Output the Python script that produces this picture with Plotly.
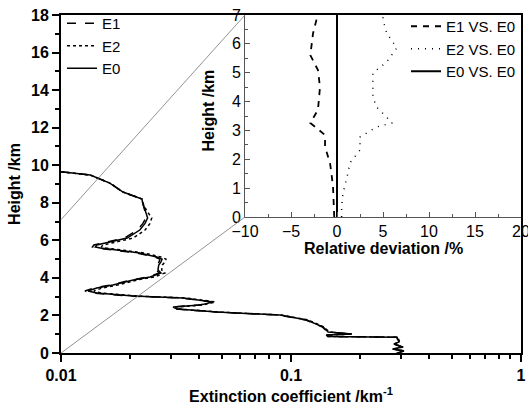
import plotly.graph_objects as go

# ---------------- data ----------------
height = [9.65, 9.48, 9.05, 8.57, 8.2, 8.04, 7.61, 7.19, 6.9, 6.55, 6.12, 5.91, 5.75, 5.65, 5.59,
          5.48, 5.32, 5.11, 5.0, 4.85, 4.69, 4.42, 4.26, 4.05, 3.89, 3.62, 3.46, 3.3, 3.19, 3.03,
          2.93, 2.72, 2.55, 2.45, 2.34, 2.18, 2.08, 2.02, 1.76, 1.38, 1.12, 1.01, 0.96, 0.88, 0.84,
          0.59, 0.48, 0.32, 0.21, 0.11, 0.0]
E0 = [0.0100, 0.0134, 0.0163, 0.0186, 0.0225, 0.0226, 0.0232, 0.0238, 0.0232, 0.0220, 0.0194, 0.0163,
      0.0143, 0.0141, 0.0148, 0.0175, 0.0220, 0.0261, 0.0275, 0.0272, 0.0266, 0.0264, 0.0272, 0.0244,
      0.0206, 0.0168, 0.0143, 0.0131, 0.0143, 0.0206, 0.0339, 0.0458, 0.0402, 0.0307, 0.0320, 0.0477,
      0.0750, 0.0895, 0.117, 0.138, 0.145, 0.184, 0.143, 0.145, 0.289, 0.295, 0.280, 0.306, 0.277,
      0.310, 0.289]
E1 = [0.0100, 0.0134, 0.0163, 0.0186, 0.0225, 0.0226, 0.0231, 0.0234, 0.0227, 0.0215, 0.0189, 0.0158,
      0.0139, 0.0137, 0.0144, 0.0170, 0.0215, 0.0256, 0.0269, 0.0267, 0.0261, 0.0259, 0.0267, 0.0239,
      0.0202, 0.0164, 0.0139, 0.0127, 0.0139, 0.0202, 0.0334, 0.0452, 0.0397, 0.0303, 0.0316, 0.0472,
      0.0743, 0.0887, 0.1162, 0.1372, 0.1443, 0.1832, 0.1424, 0.1444, 0.2878, 0.2939, 0.2790, 0.3049,
      0.2761, 0.3090, 0.2881]
E2 = [0.0100, 0.0134, 0.0163, 0.0186, 0.0225, 0.0226, 0.0235, 0.0248, 0.0244, 0.0232, 0.0206, 0.0173,
      0.0152, 0.0150, 0.0157, 0.0185, 0.0231, 0.0272, 0.0286, 0.0283, 0.0276, 0.0274, 0.0283, 0.0254,
      0.0215, 0.0176, 0.0151, 0.0139, 0.0150, 0.0214, 0.0350, 0.0469, 0.0412, 0.0315, 0.0328, 0.0487,
      0.0764, 0.0911, 0.1186, 0.1395, 0.1463, 0.1855, 0.1441, 0.1460, 0.2909, 0.2968, 0.2815, 0.3075,
      0.2784, 0.3116, 0.2904]

dev_h1 = [0, 0.5, 1.04, 1.5, 1.87, 2.43, 2.84, 3.26, 3.71, 4.5, 5.09, 5.61, 6.37, 7.0]
dev_E1 = [-0.3, -0.35, -0.43, -0.6, -0.76, -1.3, -1.3, -2.9, -2.07, -1.85, -2.07, -2.9, -2.6, -2.1]
dev_h2 = [0, 0.35, 0.83, 1.39, 1.87, 2.32, 2.77, 3.12, 3.26, 3.81, 4.16, 4.99, 5.37, 5.86, 6.37, 6.83, 7.0]
dev_E2 = [0.5, 0.5, 0.65, 1.1, 1.4, 2.5, 2.5, 4.3, 6.0, 4.3, 3.9, 3.9, 5.4, 6.5, 5.4, 5.0, 5.0]
dev_h0 = [0, 7]
dev_E0 = [0, 0]

main_xticks = [0.01, 0.1, 1]
main_xticklabels = ["0.01", "0.1", "1"]
main_xminor = [0.02, 0.03, 0.04, 0.05, 0.06, 0.07, 0.08, 0.09,
               0.2, 0.3, 0.4, 0.5, 0.6, 0.7, 0.8, 0.9]

# ---------------- layout geometry ----------------
W, H = 528, 405
main_x = [61 / W, 521 / W]
main_y = [(H - 353) / H, (H - 15) / H]
ins_x = [245 / W, 521 / W]
ins_y = [(H - 217) / H, (H - 15) / H]

FONT = "Liberation Sans, Arial, sans-serif"
bold = dict(family=FONT, size=16, color="black", weight="bold")
reg = dict(family=FONT, size=16, color="black")
leg = dict(family=FONT, size=15, color="black")

fig = go.Figure()
fig.add_trace(go.Scatter(x=E1, y=height, mode="lines", name="E1",
                         line=dict(color="black", width=1.5, dash="dash"), legend="legend"))
fig.add_trace(go.Scatter(x=E2, y=height, mode="lines", name="E2",
                         line=dict(color="black", width=1.5, dash="dot"), legend="legend"))
fig.add_trace(go.Scatter(x=E0, y=height, mode="lines", name="E0",
                         line=dict(color="black", width=1.5), legend="legend"))

fig.add_trace(go.Scatter(x=dev_E1, y=dev_h1, mode="lines", name="E1 VS. E0",
                         line=dict(color="black", width=1.8, dash="6px,6px"),
                         xaxis="x2", yaxis="y2", legend="legend2"))
fig.add_trace(go.Scatter(x=dev_E2, y=dev_h2, mode="lines", name="E2 VS. E0",
                         line=dict(color="black", width=1.5, dash="1px,6px"),
                         xaxis="x2", yaxis="y2", legend="legend2"))
fig.add_trace(go.Scatter(x=dev_E0, y=dev_h0, mode="lines", name="E0 VS. E0",
                         line=dict(color="black", width=2),
                         xaxis="x2", yaxis="y2", legend="legend2"))

# connecting lines (main bottom-left -> inset bottom-left, main h=7 -> inset top-left)
y7 = main_y[0] + (main_y[1] - main_y[0]) * 7.1 / 18
for (xa, ya, xb, yb) in [(main_x[0], main_y[0], ins_x[0], ins_y[0]),
                         (main_x[0], y7, ins_x[0], ins_y[1])]:
    fig.add_shape(type="line", xref="paper", yref="paper", x0=xa, y0=ya, x1=xb, y1=yb,
                  line=dict(color="#777777", width=0.8), layer="above")

# inset axis titles as annotations (placed close to the inset axes)
fig.add_annotation(text="Height /km", xref="paper", yref="paper", x=207.5 / W, y=1 - 111 / H,
                   textangle=-90, showarrow=False, xanchor="center", yanchor="middle", font=bold)
fig.add_annotation(text="Relative deviation /%", xref="paper", yref="paper",
                   x=(ins_x[0] + ins_x[1]) / 2, y=1 - 248 / H,
                   showarrow=False, xanchor="center", yanchor="middle", font=bold)

fig.update_layout(
    width=W, height=H, autosize=False,
    margin=dict(l=0, r=0, t=0, b=0),
    paper_bgcolor="white", plot_bgcolor="white",
    showlegend=True,
    xaxis=dict(domain=main_x, type="log", range=[-2, 0], tickvals=main_xticks,
               ticktext=main_xticklabels, ticks="outside", ticklen=7, tickwidth=1.5,
               tickcolor="black", automargin=False, ticklabeloverflow="allow",
               minor=dict(tickvals=main_xminor, ticks="outside", ticklen=4, tickwidth=1.5,
                          tickcolor="black"),
               showline=True, linecolor="black", linewidth=2, mirror=True,
               showgrid=False, zeroline=False, tickfont=bold, anchor="y",
               title=dict(text="Extinction coefficient /km<sup>-1</sup>", font=bold, standoff=8)),
    yaxis=dict(domain=main_y, range=[0, 18], dtick=2, ticks="outside", ticklen=7, tickwidth=1.5,
               tickcolor="black", automargin=False, ticklabeloverflow="allow",
               minor=dict(dtick=1, ticks="outside", ticklen=4, tickwidth=1.5, tickcolor="black"),
               showline=True, linecolor="black", linewidth=2, mirror=True,
               showgrid=False, zeroline=False, tickfont=bold, anchor="x",
               title=dict(text="Height /km", font=bold, standoff=6)),
    xaxis2=dict(domain=ins_x, range=[-10, 20], dtick=5, ticks="inside", ticklen=5, tickwidth=1,
                tickcolor="#555555", automargin=False, ticklabeloverflow="allow",
                ticklabelstandoff=0,
                minor=dict(dtick=2.5, ticks="inside", ticklen=3, tickwidth=1, tickcolor="#555555"),
                showline=True, linecolor="#555555", linewidth=1, mirror=False,
                showgrid=False, zeroline=False, tickfont=reg, anchor="y2"),
    yaxis2=dict(domain=ins_y, range=[0, 7], dtick=1, ticks="inside", ticklen=5, tickwidth=1,
                tickcolor="#555555", automargin=False, ticklabeloverflow="allow",
                minor=dict(dtick=0.5, ticks="inside", ticklen=3, tickwidth=1, tickcolor="#555555"),
                showline=True, linecolor="#555555", linewidth=1, mirror=False,
                showgrid=False, zeroline=False, tickfont=reg, anchor="x2"),
    legend=dict(x=62 / W, y=1 - 7 / H, xanchor="left", yanchor="top", bgcolor="rgba(0,0,0,0)",
                font=leg, tracegroupgap=0, itemwidth=30),
    legend2=dict(x=406 / W, y=1 - 10 / H, xanchor="left", yanchor="top", bgcolor="rgba(0,0,0,0)",
                 font=leg, tracegroupgap=0, itemwidth=30),
)

fig.write_html("out.html")
